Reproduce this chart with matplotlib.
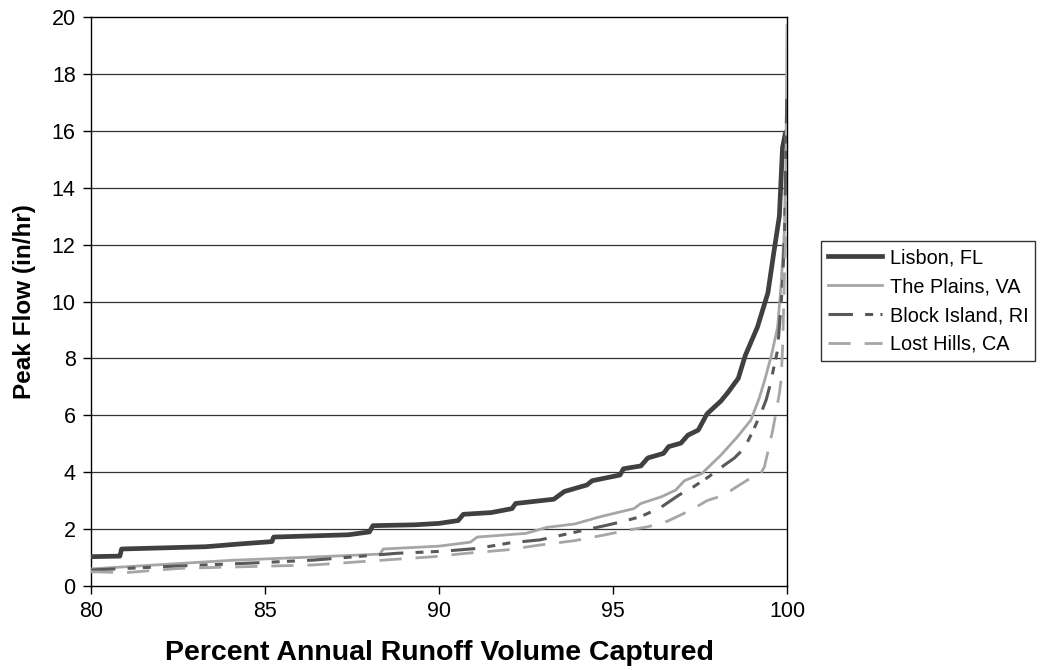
import matplotlib
matplotlib.use("Agg")
import matplotlib.pyplot as plt

plt.rcParams["font.family"] = ["Liberation Sans", "DejaVu Sans"]

# values
lisbon_x = [80.0, 80.83, 80.88, 83.3, 84.3, 85.2, 85.25, 87.4, 88.0, 88.1, 89.3, 90.0,
            90.55, 90.7, 91.5, 92.1, 92.2, 93.3, 93.6, 94.25, 94.4, 95.2, 95.3, 95.8,
            96.0, 96.45, 96.6, 96.95, 97.15, 97.45, 97.7, 98.1, 98.3, 98.6, 98.8, 99.15,
            99.45, 99.63, 99.78, 99.87, 99.95, 100.0]
lisbon_y = [1.03, 1.05, 1.30, 1.38, 1.48, 1.56, 1.72, 1.80, 1.90, 2.12, 2.15, 2.20,
            2.30, 2.52, 2.58, 2.72, 2.90, 3.05, 3.32, 3.55, 3.70, 3.90, 4.12, 4.22,
            4.50, 4.66, 4.90, 5.02, 5.30, 5.48, 6.05, 6.50, 6.80, 7.30, 8.10, 9.10,
            10.3, 11.8, 13.0, 15.4, 15.9, 16.0]

plains_x = [80.0, 82.0, 84.0, 86.4, 88.3, 88.4, 90.0, 90.9, 91.1, 92.5, 93.1, 93.9,
            94.65, 95.6, 95.8, 96.4, 96.8, 97.05, 97.55, 98.1, 98.58, 98.96, 99.2,
            99.35, 99.55, 99.73, 99.83, 99.92, 99.97, 100.0]
plains_y = [0.60, 0.75, 0.90, 1.02, 1.12, 1.30, 1.40, 1.54, 1.72, 1.85, 2.06, 2.18,
            2.44, 2.72, 2.90, 3.14, 3.37, 3.70, 3.95, 4.60, 5.25, 5.83, 6.60,
            7.20, 8.10, 9.10, 10.6, 12.4, 15.0, 19.7]

block_x = [80.0, 82.1, 84.5, 86.4, 88.8, 90.1, 91.1, 92.06, 92.9, 93.98, 94.84, 95.32,
           95.8, 96.37, 96.9, 97.33, 97.75, 98.2, 98.48, 98.77, 99.01, 99.25, 99.4,
           99.5, 99.73, 99.87, 99.93, 99.97, 100.0]
block_y = [0.56, 0.68, 0.80, 0.91, 1.15, 1.22, 1.32, 1.52, 1.62, 1.91, 2.14, 2.28,
           2.44, 2.76, 3.20, 3.50, 3.84, 4.25, 4.49, 4.84, 5.42, 6.07, 6.54,
           7.00, 8.30, 10.6, 12.4, 15.5, 17.5]

lost_x = [80.0, 81.0, 82.56, 84.5, 86.4, 88.3, 89.85, 90.8, 91.96, 92.9, 93.88, 94.74,
          95.5, 96.0, 96.57, 96.95, 97.33, 97.7, 98.2, 98.48, 98.87, 99.25, 99.35,
          99.44, 99.59, 99.68, 99.78, 99.83, 99.88, 99.93, 100.0]
lost_y = [0.50, 0.47, 0.62, 0.68, 0.74, 0.90, 1.03, 1.15, 1.27, 1.44, 1.59, 1.79,
          1.98, 2.08, 2.28, 2.50, 2.73, 3.00, 3.20, 3.43, 3.73, 3.96, 4.19,
          4.66, 5.48, 6.07, 6.77, 7.24, 8.60, 11.2, 13.5]

fig = plt.figure(figsize=(10.42, 6.70), dpi=100)
ax = fig.add_axes([0.0873, 0.1254, 0.668, 0.8492])

for y in range(2, 20, 2):
    ax.axhline(y, color="#333333", lw=0.9, zorder=1)

ax.plot(lisbon_x, lisbon_y, color="#404040", lw=3.4, label="Lisbon, FL", zorder=3)
ax.plot(plains_x, plains_y, color="#a6a6a6", lw=2.0, label="The Plains, VA", zorder=3)
ax.plot(block_x, block_y, color="#595959", lw=2.2, label="Block Island, RI",
        linestyle=(0, (8.0, 4.0, 2.6, 2.4, 2.6, 4.0)), zorder=3)
ax.plot(lost_x, lost_y, color="#a6a6a6", lw=2.0, label="Lost Hills, CA",
        linestyle=(0, (8.0, 5.0)), zorder=3)

ax.set_xlim(80, 100)
ax.set_ylim(0, 20)
ax.set_xticks([80, 85, 90, 95, 100])
ax.set_yticks(range(0, 21, 2))
ax.tick_params(direction="out", length=6, width=1, labelsize=15.5, pad=5)
for s in ax.spines.values():
    s.set_linewidth(1.0)
    s.set_color("black")

ax.set_xlabel("Percent Annual Runoff Volume Captured", fontsize=20.5, fontweight="bold", labelpad=13)
ax.set_ylabel("Peak Flow (in/hr)", fontsize=17.5, fontweight="bold", labelpad=11)

leg = fig.legend(loc="upper left", bbox_to_anchor=(0.788, 0.640), fontsize=14.3,
                 frameon=True, fancybox=False, edgecolor="black", borderaxespad=0,
                 handlelength=2.7, handletextpad=0.4, labelspacing=0.5, borderpad=0.35)
leg.get_frame().set_linewidth(1.0)

fig.savefig("out.png", dpi=100)
